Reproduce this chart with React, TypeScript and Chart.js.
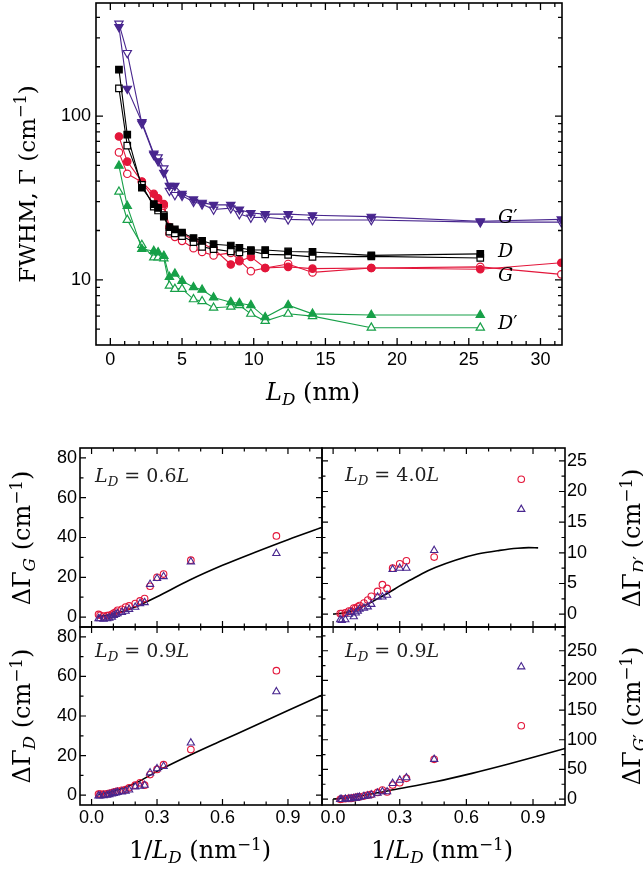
import React, { useEffect, useRef } from "react";
import { Chart, registerables } from "chart.js";

Chart.register(...registerables);

const W = 643;
const H = 871;
const AXW = 60; // space reserved for tick labels of each axis

// ---------------- top panel: FWHM vs L_D ----------------
const LD_NM = [0.6, 1.18, 2.2, 3.03, 3.33, 3.73, 4.12, 4.5, 5.0, 5.8, 6.4, 7.2, 8.4, 9.0, 9.8, 10.8, 12.4, 14.1, 18.2, 25.8, 31.45];
const GP_FILLED = [350, 147, 92, 59, 53, 45, 37.5, 37.5, 33.5, 31, 29.6, 28.7, 28.7, 26.9, 25.6, 25.2, 25.2, 24.8, 24.3, 22.8, 23.4];
const GP_OPEN = [367, 243, 90, 58, 56, 48, 35, 33, 32.6, 30, 28.9, 26.9, 27.4, 25.2, 24.0, 24.1, 23.4, 23.2, 23.2, 22.5, 22.5];
const D_FILLED = [192, 77, 36.5, 29, 27.5, 24.3, 21, 20.3, 19.4, 18, 17.3, 16.5, 16.2, 15.7, 15.2, 15.2, 14.9, 14.8, 14.1, 14.4, null];
const D_OPEN = [147.5, 66, 38, 28, 26.5, 24.8, 19.7, 19.2, 18.5, 17, 15.9, 15.4, 14.9, 14.7, 15.0, 14.3, 14.2, 13.8, 13.9, 13.6, null];
const G_FILLED = [75, 52.7, 39.8, 33.5, 31.5, 29, 21, 20, 19.2, 17.5, 16.6, 15.5, 12.4, 13.0, 13.8, 11.8, 12.0, 11.7, 11.8, 11.6, 12.7];
const G_OPEN = [60, 44.4, 39.5, 31.5, 30.8, 28.3, 19.2, 18.3, 17.3, 15.6, 14.8, 14.1, 14.6, 13.2, 11.3, 11.8, 12.5, 11.1, 11.8, 12.0, 10.8];
const DP_FILLED = [49.7, 28.2, 15.4, 15.0, 14.7, 14.0, 10.4, 10.9, 9.85, 9.0, 8.7, 7.8, 7.3, 7.2, 7.0, 5.9, 7.0, 6.2, 6.1, 6.1, null];
const DP_OPEN = [34.5, 23.2, 16.3, 13.7, 13.7, 13.5, 9.2, 8.8, 8.8, 7.6, 7.4, 6.75, 6.85, 7.0, 6.2, 5.6, 6.2, 6.0, 5.1, 5.1, null];

const TOP_X_TICKS = [0, 5, 10, 15, 20, 25, 30];
const TOP_X_MINOR = [1, 2, 3, 4, 6, 7, 8, 9, 11, 12, 13, 14, 16, 17, 18, 19, 21, 22, 23, 24, 26, 27, 28, 29, 31];
const TOP_Y_TICKS = [10, 100];
const TOP_Y_MINOR = [5, 6, 7, 8, 9, 20, 30, 40, 50, 60, 70, 80, 90, 200, 300, 400];

// ---------------- bottom panels: delta Gamma vs 1/L_D ----------------
const INV_LD = [0.847, 0.455, 0.33, 0.3, 0.268, 0.243, 0.222, 0.2, 0.172, 0.156, 0.139, 0.119, 0.111, 0.102, 0.093, 0.081, 0.071, 0.055, 0.039, 0.032];
const DG_G_RED = [40.8, 28.6, 21.6, 20.0, 15.5, 9.3, 8.1, 6.8, 5.6, 5.0, 3.9, 3.4, 2.5, 2.0, 1.4, 0.9, 0.7, 0.5, 0.9, 1.3];
const DG_G_PURPLE = [32, 27.8, 20.4, 19.4, 16.5, 7.3, 6.8, 5.0, 3.9, 3.0, 2.4, 1.7, 1.3, 0.8, 0, -0.5, -0.8, -1.0, -0.8, -0.8];
const DG_DP_RED = [22.0, 9.3, 8.7, 8.2, 7.5, 4.2, 4.8, 3.7, 2.9, 2.3, 1.8, 1.4, 1.2, 1.0, 1.0, 0.5, 0.5, 0.2, 0.1, 0.1];
const DG_DP_PURPLE = [17.1, 10.4, 7.5, 7.5, 7.3, 3.1, 2.8, 2.8, 1.6, 1.2, 1.0, 0.8, 0.5, 0.2, -0.4, 0.3, 0.0, -0.9, -1.0, -0.9];
const DG_D_RED = [62.9, 23, 15.4, 13.0, 10.4, 5.0, 6.2, 5.0, 3.7, 2.8, 2.4, 2.0, 1.7, 1.5, 1.2, 0.9, 0.7, 0.5, 0.5, 0.5];
const DG_D_PURPLE = [52.3, 26.4, 14.6, 13.4, 11.3, 5.0, 4.5, 4.2, 2.6, 2.0, 1.7, 1.4, 1.2, 0.9, 0.6, 0.3, 0, -0.2, -0.4, -0.4];
const DG_GP_RED = [123.6, 67, 35, 27.5, 23.6, 12, 15.2, 11.2, 7.9, 6.5, 5, 3.9, 3.2, 2.8, 2.2, 1.1, 1.0, 0.5, 0, -0.5];
const DG_GP_PURPLE = [223, 67, 36, 32, 26.4, 12.4, 12.4, 10, 7, 5.5, 4.5, 3.3, 2.5, 1.8, 1.2, 0.6, 0.3, 0.0, -0.5, -0.5];

const FIT_G_X = [0.03, 0.1, 0.15, 0.2, 0.236, 0.3, 0.45, 0.6, 0.75, 0.9, 1.06];
const FIT_G_Y = [0.2, 1.5, 3, 5, 6.8, 10.2, 18.6, 26, 32.6, 38.9, 45.2];
const FIT_D_X = [0.03, 0.1, 0.2, 0.3, 0.457, 0.6, 0.75, 0.9, 1.06];
const FIT_D_Y = [0.2, 2, 6, 12, 20.5, 27.7, 35.2, 42.8, 50.8];
const FIT_DP_X = [0.0, 0.05, 0.12, 0.2, 0.255, 0.3, 0.35, 0.4, 0.46, 0.55, 0.65, 0.75, 0.83, 0.88, 0.923];
const FIT_DP_Y = [0, 0.2, 1.0, 2.5, 3.6, 4.6, 5.6, 6.6, 7.6, 8.8, 9.8, 10.4, 10.75, 10.85, 10.8];
const FIT_GP_X = [0.0, 0.1, 0.2, 0.264, 0.46, 0.625, 0.79, 0.91, 1.044];
const FIT_GP_Y = [0, 4, 10.5, 15.2, 29.2, 43.3, 59, 71.3, 85.4];

const BOT_X_TICKS = [0, 0.3, 0.6, 0.9];
const BOT_X_MINOR = [0.1, 0.2, 0.4, 0.5, 0.7, 0.8, 1.0];
const G_Y_TICKS = [0, 20, 40, 60, 80];
const G_Y_MINOR = [10, 30, 50, 70];
const DP_Y_TICKS = [0, 5, 10, 15, 20, 25];
const DP_Y_MINOR = [2.5, 7.5, 12.5, 17.5, 22.5];
const GP_Y_TICKS = [0, 50, 100, 150, 200, 250];
const GP_Y_MINOR = [25, 75, 125, 175, 225, 275];

const RED = "#e3163a";
const PURPLE = "#48268e";
const GREEN = "#17a048";
const BLACK = "#000000";

const SANS = "'Liberation Sans', Arial, Helvetica, sans-serif";
const SERIF = "'DejaVu Serif', serif";

function pts(xs: number[], ys: (number | null)[]) {
  const out: { x: number; y: number }[] = [];
  xs.forEach((x, i) => {
    const y = ys[i];
    if (y !== null && y !== undefined) out.push({ x, y });
  });
  return out;
}

function framePlugin(spec: any) {
  return {
    id: "frameTicks",
    afterDatasetsDraw(chart: any) {
      const { ctx, chartArea: a, scales } = chart;
      const xs = scales.x;
      const ys = scales.y;
      ctx.save();
      ctx.strokeStyle = "#000";
      ctx.lineWidth = spec.tickWidth;
      ctx.beginPath();
      const vx = (vals: number[], len: number) =>
        vals.forEach((v) => {
          const p = xs.getPixelForValue(v);
          if (p < a.left - 0.5 || p > a.right + 0.5) return;
          ctx.moveTo(p, a.bottom);
          ctx.lineTo(p, a.bottom - len);
          ctx.moveTo(p, a.top);
          ctx.lineTo(p, a.top + len);
        });
      const vy = (vals: number[], len: number) =>
        vals.forEach((v) => {
          const p = ys.getPixelForValue(v);
          if (p < a.top - 0.5 || p > a.bottom + 0.5) return;
          ctx.moveTo(a.left, p);
          ctx.lineTo(a.left + len, p);
          ctx.moveTo(a.right, p);
          ctx.lineTo(a.right - len, p);
        });
      vx(spec.xMajor, spec.major);
      vx(spec.xMinor, spec.minor);
      vy(spec.yMajor, spec.major);
      vy(spec.yMinor, spec.minor);
      ctx.stroke();
      ctx.lineWidth = spec.frameWidth;
      ctx.strokeRect(a.left, a.top, a.right - a.left, a.bottom - a.top);
      ctx.restore();
    },
  };
}

function fixedFit(isX: boolean) {
  return (s: any) => {
    if (isX) s.height = AXW;
    else s.width = AXW;
    s.paddingLeft = 0;
    s.paddingRight = 0;
    s.paddingTop = 0;
    s.paddingBottom = 0;
  };
}

function makeConfig(p: any) {
  const left = p.yPos === "left" ? p.area.l - AXW : p.area.l;
  const right = p.yPos === "right" ? W - p.area.r - AXW : W - p.area.r;
  return {
    type: "scatter",
    data: { datasets: p.datasets },
    options: {
      animation: false,
      responsive: false,
      devicePixelRatio: 1,
      events: [],
      layout: {
        autoPadding: false,
        padding: { left, top: p.area.t, right, bottom: H - p.area.b - AXW },
      },
      plugins: { legend: { display: false }, tooltip: { enabled: false }, title: { display: false } },
      scales: {
        x: {
          type: "linear",
          position: "bottom",
          min: p.xr[0],
          max: p.xr[1],
          grid: { display: false, drawTicks: false, tickLength: 0 },
          border: { display: false },
          ticks: {
            display: p.showX,
            autoSkip: false,
            maxRotation: 0,
            padding: p.xPad,
            color: "#000",
            font: { family: SANS, size: 18 },
            callback: p.xFmt,
          },
          afterBuildTicks: (s: any) => {
            s.ticks = p.xTicks.map((v: number) => ({ value: v }));
          },
          afterFit: fixedFit(true),
        },
        y: {
          type: p.yType,
          position: p.yPos,
          min: p.yr[0],
          max: p.yr[1],
          grid: { display: false, drawTicks: false, tickLength: 0 },
          border: { display: false },
          ticks: {
            autoSkip: false,
            padding: p.yPad,
            color: "#000",
            font: { family: SANS, size: 18 },
            callback: (v: any) => String(v),
          },
          afterBuildTicks: (s: any) => {
            s.ticks = p.yTicks.map((v: number) => ({ value: v }));
          },
          afterFit: fixedFit(false),
        },
      },
    },
    plugins: [framePlugin(p.frame)],
  };
}

function topSeries(ys: (number | null)[], color: string, style: string, filled: boolean, rot: number, r: number) {
  return {
    data: pts(LD_NM, ys),
    showLine: true,
    borderColor: color,
    borderWidth: 1.1,
    pointStyle: style,
    rotation: rot,
    pointRotation: rot,
    pointRadius: r,
    pointBorderColor: color,
    pointBorderWidth: 1.2,
    pointBackgroundColor: filled ? color : "#ffffff",
    clip: 0,
  };
}

function markerSeries(ys: number[], color: string, style: string, r: number) {
  return {
    data: pts(INV_LD, ys),
    showLine: false,
    pointStyle: style,
    pointRadius: r,
    pointBorderColor: color,
    pointBorderWidth: 1.1,
    pointBackgroundColor: "rgba(0,0,0,0)",
  };
}

function fitLine(xs: number[], ys: number[]) {
  return {
    data: pts(xs, ys),
    showLine: true,
    borderColor: "#000",
    borderWidth: 1.6,
    pointRadius: 0,
    cubicInterpolationMode: "monotone",
  };
}

const botFrame = (yMajor: number[], yMinor: number[]) => ({
  xMajor: BOT_X_TICKS,
  xMinor: BOT_X_MINOR,
  yMajor,
  yMinor,
  major: 6,
  minor: 3.5,
  tickWidth: 1.2,
  frameWidth: 1.6,
});

function configs() {
  const top = makeConfig({
    area: { l: 96, t: 3, r: 562, b: 345 },
    xr: [-1, 31.5],
    yr: [4, 490],
    yType: "logarithmic",
    yPos: "left",
    showX: true,
    xPad: 4,
    yPad: 5,
    xTicks: TOP_X_TICKS,
    yTicks: TOP_Y_TICKS,
    xFmt: (v: any) => String(v),
    datasets: [
      topSeries(GP_FILLED, PURPLE, "triangle", true, 180, 4.8),
      topSeries(GP_OPEN, PURPLE, "triangle", false, 180, 4.8),
      topSeries(D_FILLED, BLACK, "rect", true, 0, 4.6),
      topSeries(D_OPEN, BLACK, "rect", false, 0, 4.6),
      topSeries(G_FILLED, RED, "circle", true, 0, 3.7),
      topSeries(G_OPEN, RED, "circle", false, 0, 3.7),
      topSeries(DP_FILLED, GREEN, "triangle", true, 0, 4.8),
      topSeries(DP_OPEN, GREEN, "triangle", false, 0, 4.8),
    ],
    frame: {
      xMajor: TOP_X_TICKS,
      xMinor: TOP_X_MINOR,
      yMajor: TOP_Y_TICKS,
      yMinor: TOP_Y_MINOR,
      major: 7,
      minor: 4,
      tickWidth: 1.3,
      frameWidth: 1.6,
    },
  });
  const fmt1 = (v: any) => Number(v).toFixed(1);
  const tl = makeConfig({
    area: { l: 80, t: 448, r: 322, b: 627 },
    xr: [-0.053, 1.056],
    yr: [-5, 85],
    yType: "linear",
    yPos: "left",
    showX: false,
    xPad: 2,
    yPad: 3,
    xTicks: BOT_X_TICKS,
    yTicks: G_Y_TICKS,
    xFmt: fmt1,
    datasets: [
      markerSeries(DG_G_PURPLE, PURPLE, "triangle", 4.2),
      markerSeries(DG_G_RED, RED, "circle", 3.3),
      fitLine(FIT_G_X, FIT_G_Y),
    ],
    frame: botFrame(G_Y_TICKS, G_Y_MINOR),
  });
  const tr = makeConfig({
    area: { l: 322, t: 448, r: 565, b: 627 },
    xr: [-0.05, 1.044],
    yr: [-2.1, 27.1],
    yType: "linear",
    yPos: "right",
    showX: false,
    xPad: 2,
    yPad: 2,
    xTicks: BOT_X_TICKS,
    yTicks: DP_Y_TICKS,
    xFmt: fmt1,
    datasets: [
      markerSeries(DG_DP_PURPLE, PURPLE, "triangle", 4.2),
      markerSeries(DG_DP_RED, RED, "circle", 3.3),
      fitLine(FIT_DP_X, FIT_DP_Y),
    ],
    frame: botFrame(DP_Y_TICKS, DP_Y_MINOR),
  });
  const bl = makeConfig({
    area: { l: 80, t: 627, r: 322, b: 805 },
    xr: [-0.053, 1.056],
    yr: [-5, 85],
    yType: "linear",
    yPos: "left",
    showX: true,
    xPad: 2,
    yPad: 3,
    xTicks: BOT_X_TICKS,
    yTicks: G_Y_TICKS,
    xFmt: fmt1,
    datasets: [
      markerSeries(DG_D_PURPLE, PURPLE, "triangle", 4.2),
      markerSeries(DG_D_RED, RED, "circle", 3.3),
      fitLine(FIT_D_X, FIT_D_Y),
    ],
    frame: botFrame(G_Y_TICKS, G_Y_MINOR),
  });
  const br = makeConfig({
    area: { l: 322, t: 627, r: 565, b: 805 },
    xr: [-0.05, 1.044],
    yr: [-10, 290],
    yType: "linear",
    yPos: "right",
    showX: true,
    xPad: 2,
    yPad: 2,
    xTicks: BOT_X_TICKS,
    yTicks: GP_Y_TICKS,
    xFmt: fmt1,
    datasets: [
      markerSeries(DG_GP_PURPLE, PURPLE, "triangle", 4.2),
      markerSeries(DG_GP_RED, RED, "circle", 3.3),
      fitLine(FIT_GP_X, FIT_GP_Y),
    ],
    frame: botFrame(GP_Y_TICKS, GP_Y_MINOR),
  });
  return [top, tl, tr, bl, br];
}

const subS: React.CSSProperties = { fontSize: "0.7em", verticalAlign: "-0.28em", lineHeight: 0 };
const supS: React.CSSProperties = { fontSize: "0.7em", verticalAlign: "0.5em", lineHeight: 0 };

const abs = (extra: React.CSSProperties): React.CSSProperties => ({
  position: "absolute",
  whiteSpace: "nowrap",
  lineHeight: 1,
  fontFamily: SERIF,
  color: "#000",
  ...extra,
});

const centered = (x: number, y: number, size: number, rot = false): React.CSSProperties =>
  abs({
    left: x,
    top: y,
    fontSize: size,
    transform: rot ? "translate(-50%,-50%) rotate(-90deg)" : "translate(-50%,-50%)",
  });

const cm1 = (
  <>
    (cm<span style={supS}>−1</span>)
  </>
);

function Ann({ x, base, children }: any) {
  return <div style={abs({ left: x, top: base - 16, fontSize: 19, color: "#222" })}>{children}</div>;
}

export default function App() {
  const canv = useRef<(HTMLCanvasElement | null)[]>([]);
  useEffect(() => {
    const cfgs = configs();
    const charts = cfgs.map((c, i) => new Chart(canv.current[i] as HTMLCanvasElement, c as any));
    return () => charts.forEach((c) => c.destroy());
  }, []);

  return (
    <div style={{ position: "absolute", left: 0, top: 0, width: W, height: H, background: "#fff", overflow: "hidden" }}>
      {[0, 1, 2, 3, 4].map((i) => (
        <canvas
          key={i}
          ref={(el) => {
            canv.current[i] = el;
          }}
          width={W}
          height={H}
          style={{ position: "absolute", left: 0, top: 0, width: W, height: H }}
        />
      ))}

      {/* top panel titles */}
      <div style={centered(313, 392, 24)}>
        <i>L</i>
        <span style={subS}>
          <i>D</i>
        </span>{" "}
        (nm)
      </div>
      <div style={centered(27, 184, 23, true)}>FWHM, Γ {cm1}</div>

      {/* series labels */}
      <div style={abs({ left: 498, top: 223 - 16, fontSize: 19 })}>
        <i>G</i>′
      </div>
      <div style={abs({ left: 498, top: 257 - 16, fontSize: 19 })}>
        <i>D</i>
      </div>
      <div style={abs({ left: 498, top: 281 - 16, fontSize: 19 })}>
        <i>G</i>
      </div>
      <div style={abs({ left: 498, top: 329 - 16, fontSize: 19 })}>
        <i>D</i>′
      </div>

      {/* bottom titles */}
      <div style={centered(200, 850, 24)}>
        1/<i>L</i>
        <span style={subS}>
          <i>D</i>
        </span>{" "}
        (nm<span style={supS}>−1</span>)
      </div>
      <div style={centered(442, 850, 24)}>
        1/<i>L</i>
        <span style={subS}>
          <i>D</i>
        </span>{" "}
        (nm<span style={supS}>−1</span>)
      </div>
      <div style={centered(22, 538, 24, true)}>
        ΔΓ
        <span style={subS}>
          <i>G</i>
        </span>{" "}
        {cm1}
      </div>
      <div style={centered(22, 716, 24, true)}>
        ΔΓ
        <span style={subS}>
          <i>D</i>
        </span>{" "}
        {cm1}
      </div>
      <div style={centered(632, 538, 24, true)}>
        ΔΓ
        <span style={subS}>
          <i>D</i>′
        </span>{" "}
        {cm1}
      </div>
      <div style={centered(632, 716, 24, true)}>
        ΔΓ
        <span style={subS}>
          <i>G</i>′
        </span>{" "}
        {cm1}
      </div>

      {/* panel annotations */}
      <Ann x={95} base={482}>
        <i>L</i>
        <span style={subS}>
          <i>D</i>
        </span>{" "}
        = 0.6<i>L</i>
      </Ann>
      <Ann x={345} base={481}>
        <i>L</i>
        <span style={subS}>
          <i>D</i>
        </span>{" "}
        = 4.0<i>L</i>
      </Ann>
      <Ann x={95} base={657}>
        <i>L</i>
        <span style={subS}>
          <i>D</i>
        </span>{" "}
        = 0.9<i>L</i>
      </Ann>
      <Ann x={345} base={657}>
        <i>L</i>
        <span style={subS}>
          <i>D</i>
        </span>{" "}
        = 0.9<i>L</i>
      </Ann>
    </div>
  );
}
